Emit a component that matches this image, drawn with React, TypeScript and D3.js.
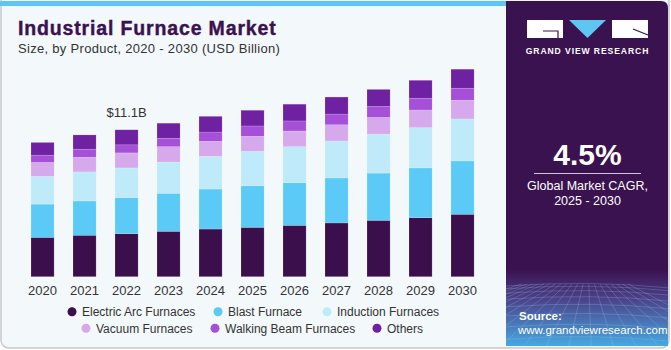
import { useEffect, useRef } from 'react';
import * as d3 from 'd3';

const years = ['2020', '2021', '2022', '2023', '2024', '2025', '2026', '2027', '2028', '2029', '2030'];
const products = [
  'Electric Arc Furnaces',
  'Blast Furnace',
  'Induction Furnaces',
  'Vacuum Furnaces',
  'Walking Beam Furnaces',
  'Others',
];
const colors = ['#3a0f4b', '#5ccaf6', '#bfeafa', '#d6a9ec', '#a64fd8', '#6e21a1'];

const electricArc = [2.98, 3.14, 3.26, 3.44, 3.61, 3.74, 3.89, 4.07, 4.27, 4.47, 4.73];
const blast = [2.52, 2.6, 2.73, 2.88, 3.03, 3.15, 3.23, 3.41, 3.58, 3.77, 4.04];
const induction = [2.1, 2.2, 2.25, 2.37, 2.48, 2.61, 2.73, 2.8, 2.95, 3.05, 3.18];
const vacuum = [1.06, 1.11, 1.14, 1.16, 1.14, 1.14, 1.19, 1.23, 1.27, 1.34, 1.42];
const walkingBeam = [0.55, 0.61, 0.61, 0.64, 0.7, 0.78, 0.76, 0.81, 0.83, 0.89, 0.91];
const others = [0.96, 1.08, 1.14, 1.14, 1.19, 1.19, 1.27, 1.29, 1.29, 1.36, 1.44];

const series = [electricArc, blast, induction, vacuum, walkingBeam, others];
const callout = { year: '2022', label: '$11.1B' };

const W = 671;
const H = 350;
const font = '"Liberation Sans", Arial, sans-serif';

export default function App() {
  const ref = useRef<SVGSVGElement>(null);

  useEffect(() => {
    if (!ref.current) return;
    const svg = d3.select(ref.current);
    svg.selectAll('*').remove();

    const defs = svg.append('defs');
    const grad = defs
      .append('linearGradient')
      .attr('id', 'panelGrad')
      .attr('x1', 0)
      .attr('y1', 0)
      .attr('x2', 0)
      .attr('y2', 1);
    grad.append('stop').attr('offset', '0%').attr('stop-color', '#3a1250');
    grad.append('stop').attr('offset', '78%').attr('stop-color', '#3a1250');
    grad.append('stop').attr('offset', '86%').attr('stop-color', '#4b3f86');
    grad.append('stop').attr('offset', '100%').attr('stop-color', '#46a9e2');
    defs
      .append('clipPath')
      .attr('id', 'panelClip')
      .append('path')
      .attr('d', 'M506,1 H661 Q668,1 668,8 V346 H506 Z');

    // card
    svg
      .append('rect')
      .attr('x', 1)
      .attr('y', -8)
      .attr('width', W - 3)
      .attr('height', H - 2 + 8)
      .attr('rx', 8)
      .attr('fill', '#f3f8fb')
      .attr('stroke', '#c8c8c8')
      .attr('stroke-width', 1.5);
    svg.append('rect').attr('x', 0).attr('y', 1).attr('width', 508).attr('height', 5).attr('fill', '#5ec7f1');

    // right panel
    const panel = svg.append('g').attr('clip-path', 'url(#panelClip)');
    panel.append('rect').attr('x', 506).attr('y', 0).attr('width', 164).attr('height', 346).attr('fill', 'url(#panelGrad)');
    const mesh = panel.append('g').attr('stroke', '#9fc9f0').attr('stroke-opacity', 0.35).attr('stroke-width', 0.7).attr('fill', 'none');
    for (let i = 0; i < 9; i++) {
      const yy = 286 + i * i * 0.8 + i * 2;
      mesh.append('path').attr('d', `M506,${yy} Q590,${yy - 6} 670,${yy + 2}`);
    }
    for (let i = -6; i < 14; i++) {
      const xx = 506 + i * 14;
      mesh.append('path').attr('d', `M${588 + (xx - 588) * 0.4},284 L${588 + (xx - 588) * 1.6},346`);
    }

    // logo
    const logo = svg.append('g');
    logo.append('rect').attr('x', 527).attr('y', 20).attr('width', 36).attr('height', 18).attr('fill', '#ffffff');
    logo.append('path').attr('d', 'M543,31 H558 V38').attr('stroke', '#3a1250').attr('stroke-width', 1.2).attr('fill', 'none');
    logo.append('path').attr('d', 'M569,20 L606,20 L587.5,38 Z').attr('fill', '#5ec7f1');
    logo.append('rect').attr('x', 612).attr('y', 20).attr('width', 36).attr('height', 18).attr('fill', '#ffffff');
    logo.append('path').attr('d', 'M633,29 L648,35').attr('stroke', '#3a1250').attr('stroke-width', 1.2);
    logo
      .append('text')
      .attr('x', 587.5)
      .attr('y', 54)
      .attr('text-anchor', 'middle')
      .attr('font-family', font)
      .attr('font-weight', 700)
      .attr('font-size', 8.6)
      .attr('letter-spacing', 0.9)
      .attr('fill', '#ffffff')
      .text('GRAND VIEW RESEARCH');

    svg
      .append('text')
      .attr('x', 587.5)
      .attr('y', 165)
      .attr('text-anchor', 'middle')
      .attr('font-family', font)
      .attr('font-weight', 700)
      .attr('font-size', 30)
      .attr('fill', '#ffffff')
      .text('4.5%');
    svg.append('line').attr('x1', 534).attr('x2', 641).attr('y1', 173.5).attr('y2', 173.5).attr('stroke', '#cfc4d8').attr('stroke-width', 1);
    svg
      .append('text')
      .attr('x', 587.5)
      .attr('y', 190)
      .attr('text-anchor', 'middle')
      .attr('font-family', font)
      .attr('font-size', 12.5)
      .attr('fill', '#ffffff')
      .text('Global Market CAGR,');
    svg
      .append('text')
      .attr('x', 587.5)
      .attr('y', 205)
      .attr('text-anchor', 'middle')
      .attr('font-family', font)
      .attr('font-size', 12.5)
      .attr('fill', '#ffffff')
      .text('2025 - 2030');
    svg
      .append('text')
      .attr('x', 519)
      .attr('y', 320)
      .attr('font-family', font)
      .attr('font-weight', 700)
      .attr('font-size', 11.5)
      .attr('fill', '#ffffff')
      .text('Source:');
    svg
      .append('text')
      .attr('x', 518)
      .attr('y', 334)
      .attr('font-family', font)
      .attr('font-size', 11.5)
      .attr('fill', '#ffffff')
      .text('www.grandviewresearch.com');

    // titles
    svg
      .append('text')
      .attr('x', 18)
      .attr('y', 35)
      .attr('font-family', font)
      .attr('font-weight', 900)
      .attr('font-size', 19.5)
      .attr('letter-spacing', 0.85)
      .attr('stroke', '#3a1250')
      .attr('stroke-width', 0.4)
      .attr('fill', '#3a1250')
      .text('Industrial Furnace Market');
    svg
      .append('text')
      .attr('x', 18)
      .attr('y', 53)
      .attr('font-family', font)
      .attr('font-size', 13)
      .attr('letter-spacing', 0.3)
      .attr('fill', '#333333')
      .text('Size, by Product, 2020 - 2030 (USD Billion)');

    // bars
    const x = d3.scaleBand().domain(years).range([20.5, 484.6]).paddingInner(0.45).paddingOuter(0.25);
    const y = d3.scaleLinear().domain([0, 16]).range([276.7, 276.7 - 16 * 13.2]);

    const rows = years.map((yr, i) => {
      const r: Record<string, number | string> = { year: yr };
      products.forEach((p, k) => (r[p] = series[k][i]));
      return r;
    });
    const stacked = d3.stack<Record<string, number | string>>().keys(products)(rows);

    const g = svg.append('g');
    stacked.forEach((layer, k) => {
      g.append('g')
        .selectAll('rect')
        .data(layer)
        .join('rect')
        .attr('x', (d) => x(d.data.year as string) ?? 0)
        .attr('width', x.bandwidth())
        .attr('y', (d) => y(d[1]))
        .attr('height', (d) => y(d[0]) - y(d[1]))
        .attr('fill', colors[k])
        .attr('stroke', '#ffffff')
        .attr('stroke-opacity', 0.25)
        .attr('stroke-width', 0.6);
    });

    const totals = years.map((_, i) => d3.sum(series, (s) => s[i]));
    const ci = years.indexOf(callout.year);
    svg
      .append('text')
      .attr('x', (x(callout.year) ?? 0) + x.bandwidth() / 2)
      .attr('y', y(totals[ci]) - 13)
      .attr('text-anchor', 'middle')
      .attr('font-family', font)
      .attr('font-size', 13)
      .attr('fill', '#333333')
      .text(callout.label);

    const axis = svg
      .append('g')
      .attr('transform', 'translate(0,276.7)')
      .call(d3.axisBottom(x).tickSize(0).tickPadding(9));
    axis.select('.domain').remove();
    axis.selectAll('text').attr('font-family', font).attr('font-size', 13).attr('fill', '#333333');

    // legend
    const legendPos = [
      { cx: 72, cy: 311.7 },
      { cx: 218, cy: 311.7 },
      { cx: 327, cy: 311.7 },
      { cx: 86, cy: 328.3 },
      { cx: 215, cy: 328.3 },
      { cx: 377, cy: 328.3 },
    ];
    const leg = svg.append('g');
    products.forEach((p, k) => {
      const pos = legendPos[k];
      leg.append('circle').attr('cx', pos.cx).attr('cy', pos.cy).attr('r', 4.5).attr('fill', colors[k]);
      leg
        .append('text')
        .attr('x', pos.cx + 10)
        .attr('y', pos.cy + 4.3)
        .attr('font-family', font)
        .attr('font-size', 12)
        .attr('fill', '#333333')
        .text(p);
    });
  }, []);

  return (
    <svg
      ref={ref}
      width={W}
      height={H}
      style={{ display: 'block', position: 'absolute', left: 0, top: 0 }}
    />
  );
}
